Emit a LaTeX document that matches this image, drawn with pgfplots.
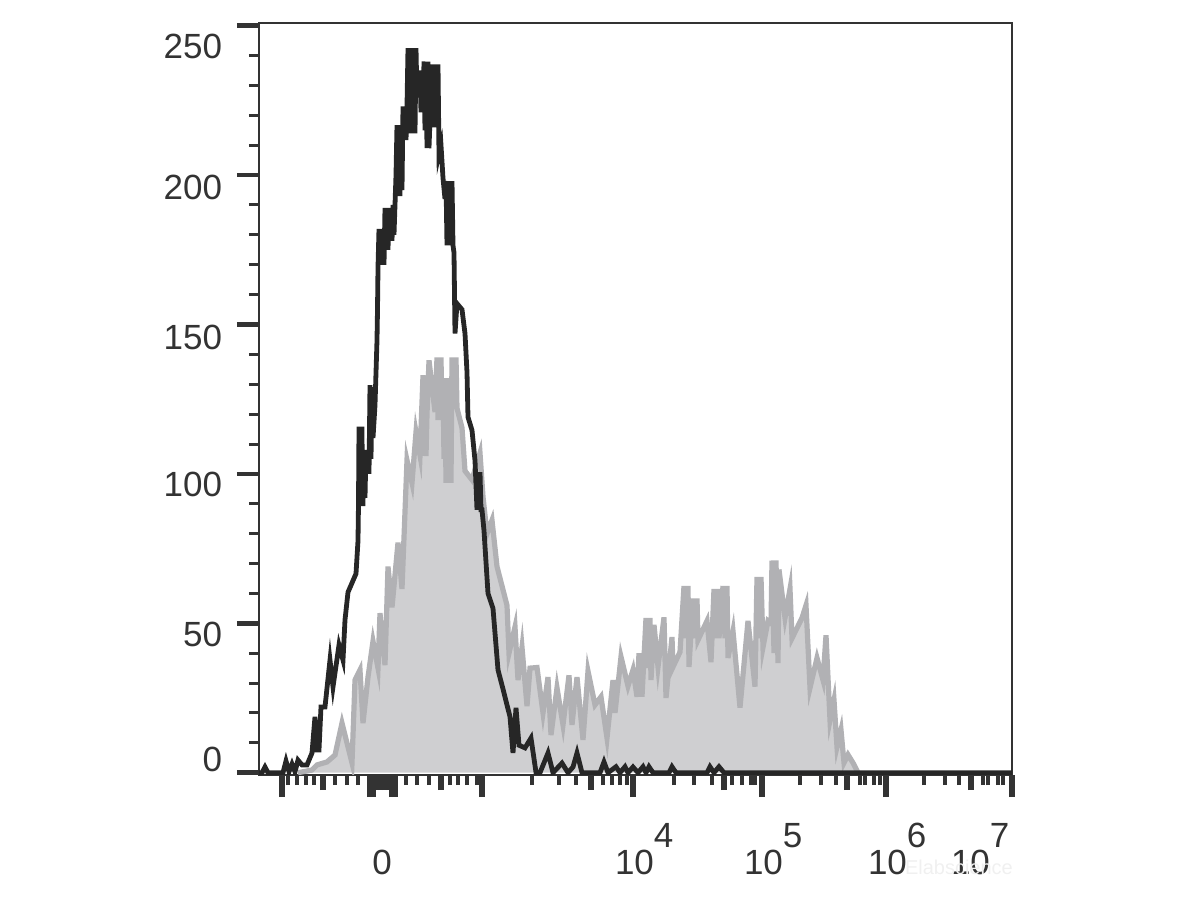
\documentclass[border=0pt]{standalone}
\usepackage{pgfplots}
\usepackage{pgfplotstable}
\usepackage{fontspec}
\setmainfont{Liberation Sans}
\pgfplotsset{compat=1.18}
\definecolor{ink}{HTML}{333333}
\definecolor{curve}{HTML}{262626}
\definecolor{grayline}{HTML}{B1B1B4}
\definecolor{grayfill}{HTML}{CFCFD1}
\pgfplotstableread{
x v
298 0
312 0.9
317 2.6
327 3.6
335 5.9
342 16.6
352 3.3
355 31
360 34.4
363 16.6
368 32
373 44
378 35
380 53.4
385 36
388 69
392 55.3
398 77
402 61.5
407 104.6
412 97
416 114
420 106.2
423 133
424 106
425 133
426 106
427 120
429 138
435 120.7
437 139
438 118
439 139
440 118
441 139
442 118
443 132
444 105
445 132
446 97
447 132
448 97
450 125
451 97
452 139
453 122
454 139
455 122
456 139
457 122
462 115.4
465 101
472 98
480 107
483 92.4
487 80
492 84.5
497 69
507 56
509 40
515 48.8
518 31
522 42
527 22.3
530 35
537 35.2
543 20
548 32
551 12.6
557 28.4
563 16
569 32.6
572 16
577 32
583 11
588 34
595 22.7
601 25.4
607 11.6
613 31
615 20
621 38.8
628 29
633 34.4
637 25.4
639 40
642 25.4
646 51.8
648 35
650 51.8
651 31
654 49.5
658 35.4
664 52
666 25
672 45.4
673 35.4
680 40.4
684 62.5
686 45
688 62.5
689 35.4
693 58.3
695 45
697 58.3
698 44.4
707 50.8
711 37
714 61.5
716 45
718 61.5
719 45
723 62.5
725 45
727 62.5
728 38.4
733 47.4
740 21.8
748 50.8
755 28.8
757 65.5
759 45
761 65.5
763 42
768 50.8
771 50
772 71
774 40
776 71
778 36.7
779 68
785 51.8
790 61.5
792 45
802 51.8
806 56
810 28.4
817 38.4
823 31
826 46
830 17.6
834 24.3
837 8.6
841 14.3
844 3.3
848 6
853 3.3
858 0
}\grayseries
\pgfplotstableread{
x v
259 0
262 0
265 1.9
268 0
283 0
286 3.9
289 0.3
292 2.9
295 0.3
298 4.2
302 2.6
307 2.6
312 6.6
315 18.7
317 7.6
319 7.6
321 22
325 22
330 37.7
333 28.7
339 42.7
343 37.7
345 51.1
348 60.4
356 66.6
358 77.6
358.5 90
359 115
360 115
360.5 90
361 115
362 115
362.5 90
363 90
364 108
365 92
366 108
367 100
368 108
369 100
370 129.7
371 105
372 129
373 112
375 123
377 144.7
377.5 154.9
378 169
379 182
380 170
381 182
382 170
383 182
384 170
385 189
386 175
387 189
388 175
389 189
390 178
391 188
392 178
393 190
394 180
396 200
397 216.7
398 193
399 216.7
400 193
401 216.7
402 195
403 223
404 211.7
405 223
406 211.7
407 223
408 242.5
409 214
410 242.5
411 214
412 242.5
413 214
414 242.5
415 214
416 242.5
417 226
418 235
419 226
420 235
421 221
422 235
423 221
424 238
425 215
426 238
427 209
428 238
429 209
431 228
432 237
433 216
434 237
435 216
436 237
437 216
438 237
439 207
441 210
443 199
445 192
446 198
447 176.5
448 198
449 176.5
450 198
451 176.5
452 198
453 176.5
454 174
455 147
457 157
462 155
465 147
467 134
468 119
472 114.6
475 104.5
477 88
478 100
479 88
480 100.6
481 88
482 88
484 81
488 60
493 55
498 34.4
503 28
510 18.7
513 6.6
516 21.7
519 9.2
525 8.3
531 11.6
536 0.1
540 0
548 6.6
553 0
562 3.2
568 0
573 1.9
577 6.6
582 0
600 0
604 3.6
608 0
616 2
620 0
625 2
628 0
633 1.9
638 0
643 2
646 0
649 2
653 0
669 0
672 2
676 0
707 0
710 2
714 0
719 2
724 0
1012 0
}\blackseries
\begin{document}
\begin{tikzpicture}
\path[use as bounding box] (-129.5bp,-62bp) rectangle (470.5bp,387.5bp);
\begin{axis}[
  at={(0,0)}, anchor=south west,
  scale only axis, width=376.5bp, height=376bp,
  xmin=259, xmax=1012,
  ymin=-0.77, ymax=250.9,
  clip mode=individual,
  axis line style={ink, line width=0.75bp},
  tick align=outside,
  xtick pos=bottom, ytick pos=left,
  xtick={282,370,373,392,395,482,633,762,886,1012},
  xticklabels={},
  minor xtick={288,297,306,314,335,347,358,406,417,429,450,458,467,477,532,559,576,603,612,620,627,674,694,712,732,742,751,755,800,821,836,860,865,874,880,924,945,959,983,988,998,1003},
  extra x ticks={323,377,381,385,389,441,591,724,847,971},
  extra x tick labels={},
  extra x tick style={major tick length=7.5bp, tick style={ink, line width=2.5bp}},
  ytick={0,50,100,150,200,250},
  yticklabels={},
  minor ytick={10,20,30,40,60,70,80,90,110,120,130,140,160,170,180,190,210,220,230,240},
  major tick length=11bp,
  minor tick length=5bp,
  xtick style={ink, line width=3bp},
  ytick style={ink, line width=2.25bp},
  minor x tick style={ink, line width=1.7bp},
  minor y tick style={ink, line width=1.5bp},
]
\addplot[draw=none, fill=grayfill, forget plot] table[x=x,y=v] {\grayseries};
\addplot[color=grayline, line width=2.6bp, forget plot] table[x=x,y=v] {\grayseries};
\addplot[color=curve, line width=2.4bp, forget plot] table[x=x,y=v] {\blackseries};
\begin{scope}[every node/.style={font=\fontsize{17.5bp}{20bp}\selectfont, text=ink, inner sep=0pt, outer sep=0pt}]
\node[anchor=east] at (axis cs:222,242.9) {250};
\node[anchor=east] at (axis cs:222,195.7) {200};
\node[anchor=east] at (axis cs:222,145.8) {150};
\node[anchor=east] at (axis cs:222,96.3) {100};
\node[anchor=east] at (axis cs:222,46.4) {50};
\node[anchor=east] at (axis cs:222,4.3) {0};
\node[anchor=base] at (axis cs:382,-34.2) {0};
\node[anchor=base west] at (axis cs:615,-34.2) {10\raisebox{13.5bp}{4}};
\node[anchor=base west] at (axis cs:744,-34.2) {10\raisebox{13.5bp}{5}};
\node[anchor=base west] at (axis cs:868,-34.2) {10\raisebox{13.5bp}{6}};
\node[anchor=base west] at (axis cs:951,-34.2) {10\raisebox{13.5bp}{7}};
\node[anchor=base west, font=\fontsize{10bp}{12bp}\selectfont, text=black!6] at (axis cs:905,-34) {Elabscience};
\end{scope}
\end{axis}
\end{tikzpicture}
\end{document}
